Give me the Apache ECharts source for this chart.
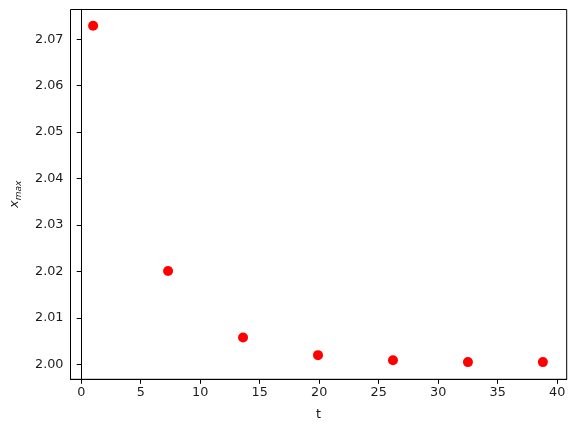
<!DOCTYPE html>
<html>
<head>
<meta charset="utf-8">
<script src="https://cdn.jsdelivr.net/npm/echarts@6/dist/echarts.min.js"></script>
<style>
  html, body { margin: 0; padding: 0; background: #fff; }
  #main { width: 576px; height: 432px; }
</style>
</head>
<body>
<div id="main"></div>
<script>
// data
var tValues = [1.0, 7.3, 13.6, 19.9, 26.2, 32.5, 38.8];
var xMaxValues = [2.0729, 2.0201, 2.0058, 2.0020, 2.0009, 2.0005, 2.0005];
var xTicks = [0, 5, 10, 15, 20, 25, 30, 35, 40];
var yTicks = [2.00, 2.01, 2.02, 2.03, 2.04, 2.05, 2.06, 2.07];

var points = tValues.map(function (t, i) { return [t, xMaxValues[i]]; });

var chart = echarts.init(document.getElementById('main'));

var labelStyle = { color: '#1a1a1a', fontSize: 12.8, fontFamily: 'DejaVu Sans' };

var option = {
  animation: false,
  grid: {
    left: 70.5, right: 9.3, top: 9.5, bottom: 52.7,
    outerBoundsMode: 'none',
    containLabel: false,
    show: true, borderColor: '#000', borderWidth: 1, backgroundColor: 'transparent'
  },
  xAxis: {
    type: 'value',
    min: -0.9,
    max: 40.8,
    name: 't',
    nameLocation: 'middle',
    nameGap: 29,
    nameTextStyle: labelStyle,
    axisLine: { show: true, lineStyle: { color: '#000', width: 1 } },
    splitLine: { show: false },
    axisTick: { show: true, inside: false, length: 4.5, lineStyle: { color: '#000', width: 1 }, customValues: xTicks },
    axisLabel: Object.assign({ margin: 7, customValues: xTicks, formatter: function (v) { return String(v); } }, labelStyle)
  },
  yAxis: {
    type: 'value',
    min: 1.9968,
    max: 2.0764,
    name: '{x|x}{s|max}',
    nameLocation: 'middle',
    nameRotate: 90,
    nameGap: 47,
    nameTextStyle: {
      rich: {
        x: { fontSize: 13, fontStyle: 'italic', fontFamily: 'DejaVu Sans', color: '#1a1a1a', lineHeight: 18 },
        s: { fontSize: 9, fontStyle: 'italic', fontFamily: 'DejaVu Sans', color: '#1a1a1a', verticalAlign: 'bottom', lineHeight: 18, padding: [6, 0, 0, 0] }
      }
    },
    axisLine: { show: true, lineStyle: { color: '#000', width: 1 } },
    splitLine: { show: false },
    axisTick: { show: true, inside: false, length: 4.5, lineStyle: { color: '#000', width: 1 }, customValues: yTicks },
    axisLabel: Object.assign({ margin: 7, customValues: yTicks, formatter: function (v) { return v.toFixed(2); } }, labelStyle)
  },
  series: [{
    type: 'scatter',
    data: points,
    symbol: 'circle',
    symbolSize: 10,
    itemStyle: { color: '#ff0000', opacity: 1 }
  }]
};

chart.setOption(option);
</script>
</body>
</html>
